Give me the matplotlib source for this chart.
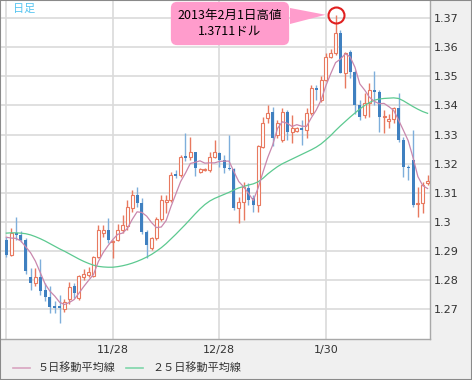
import numpy as np
import matplotlib
matplotlib.use("Agg")
import matplotlib.pyplot as plt
from matplotlib.lines import Line2D
from matplotlib.patches import Rectangle, Polygon

plt.rcParams['font.family'] = ['DejaVu Sans', 'Noto Sans CJK JP']

# daily candles, oldest first
opens = [1.2940, 1.2888, 1.2961, 1.2955, 1.2940, 1.2812, 1.2790, 1.2812, 1.2767, 1.2744,
         1.2712, 1.2712, 1.2700, 1.2737, 1.2779, 1.2738, 1.2812, 1.2818, 1.2815, 1.2881,
         1.2961, 1.2973, 1.2930, 1.2939, 1.2973, 1.2985, 1.3047, 1.3093, 1.3064, 1.2967,
         1.2910, 1.2944, 1.3010, 1.3070, 1.3076, 1.3165, 1.3160, 1.3225, 1.3222, 1.3241,
         1.3172, 1.3178, 1.3178, 1.3224, 1.3238, 1.3213, 1.3186, 1.3182, 1.3047, 1.3070,
         1.3116, 1.3081, 1.3058, 1.3258, 1.3356, 1.3379, 1.3299, 1.3282, 1.3379, 1.3310,
         1.3314, 1.3321, 1.3316, 1.3373, 1.3461, 1.3419, 1.3489, 1.3567, 1.3579, 1.3650,
         1.3510, 1.3584, 1.3516, 1.3402, 1.3367, 1.3407, 1.3453, 1.3447, 1.3361, 1.3348,
         1.3352, 1.3390, 1.3281, 1.3190, 1.3213, 1.3061, 1.3064, 1.3133]
highs = [1.2950, 1.2978, 1.3016, 1.2970, 1.2945, 1.2841, 1.2841, 1.2872, 1.2790, 1.2781,
         1.2730, 1.2750, 1.2735, 1.2796, 1.2790, 1.2820, 1.2840, 1.2845, 1.2885, 1.2990,
         1.2990, 1.3013, 1.2939, 1.2995, 1.3024, 1.3076, 1.3110, 1.3121, 1.3081, 1.2973,
         1.2950, 1.3016, 1.3093, 1.3093, 1.3173, 1.3178, 1.3230, 1.3307, 1.3293, 1.3241,
         1.3186, 1.3186, 1.3241, 1.3281, 1.3241, 1.3230, 1.3299, 1.3184, 1.3087, 1.3138,
         1.3133, 1.3093, 1.3264, 1.3362, 1.3401, 1.3396, 1.3350, 1.3390, 1.3385, 1.3367,
         1.3327, 1.3350, 1.3390, 1.3470, 1.3470, 1.3500, 1.3579, 1.3593, 1.3711, 1.3659,
         1.3585, 1.3590, 1.3522, 1.3419, 1.3442, 1.3476, 1.3519, 1.3453, 1.3384, 1.3372,
         1.3396, 1.3442, 1.3293, 1.3196, 1.3316, 1.3121, 1.3138, 1.3161]
lows = [1.2880, 1.2882, 1.2939, 1.2930, 1.2822, 1.2767, 1.2781, 1.2750, 1.2730, 1.2689,
        1.2689, 1.2655, 1.2692, 1.2718, 1.2740, 1.2732, 1.2800, 1.2810, 1.2810, 1.2876,
        1.2950, 1.2927, 1.2877, 1.2935, 1.2961, 1.2973, 1.3036, 1.3053, 1.2959, 1.2876,
        1.2905, 1.2938, 1.3005, 1.3030, 1.3070, 1.3150, 1.3153, 1.3210, 1.3213, 1.3158,
        1.3168, 1.3175, 1.3172, 1.3219, 1.3190, 1.3167, 1.3178, 1.3041, 1.2996, 1.3007,
        1.3059, 1.3036, 1.3035, 1.3253, 1.3339, 1.3262, 1.3290, 1.3276, 1.3282, 1.3270,
        1.3310, 1.3265, 1.3287, 1.3368, 1.3418, 1.3412, 1.3485, 1.3562, 1.3573, 1.3510,
        1.3459, 1.3493, 1.3370, 1.3350, 1.3356, 1.3362, 1.3402, 1.3310, 1.3304, 1.3322,
        1.3339, 1.3276, 1.3156, 1.3144, 1.3053, 1.3018, 1.3030, 1.3127]
closes = [1.2888, 1.2961, 1.2955, 1.2938, 1.2833, 1.2790, 1.2812, 1.2764, 1.2742, 1.2708,
          1.2704, 1.2706, 1.2725, 1.2778, 1.2755, 1.2815, 1.2823, 1.2829, 1.2879, 1.2973,
          1.2973, 1.2939, 1.2934, 1.2973, 1.2990, 1.3053, 1.3093, 1.3064, 1.2967, 1.2921,
          1.2944, 1.3010, 1.3075, 1.3076, 1.3162, 1.3157, 1.3224, 1.3219, 1.3241, 1.3184,
          1.3182, 1.3182, 1.3224, 1.3241, 1.3213, 1.3184, 1.3182, 1.3047, 1.3070, 1.3121,
          1.3076, 1.3058, 1.3260, 1.3339, 1.3375, 1.3290, 1.3339, 1.3379, 1.3310, 1.3321,
          1.3321, 1.3316, 1.3373, 1.3459, 1.3453, 1.3489, 1.3567, 1.3579, 1.3647, 1.3512,
          1.3579, 1.3516, 1.3402, 1.3362, 1.3407, 1.3453, 1.3447, 1.3362, 1.3364, 1.3352,
          1.3390, 1.3281, 1.3190, 1.3184, 1.3059, 1.3064, 1.3127, 1.3142]

ma5 = [1.2948, 1.2945, 1.2944, 1.2935, 1.2915, 1.2895, 1.2866, 1.2827, 1.2788, 1.2763,
       1.2746, 1.2725, 1.2717, 1.2724, 1.2734, 1.2756, 1.2779, 1.2800, 1.2820, 1.2864,
       1.2895, 1.2919, 1.2940, 1.2958, 1.2962, 1.2978, 1.3009, 1.3035, 1.3033, 1.3020,
       1.2998, 1.2981, 1.2983, 1.3005, 1.3053, 1.3096, 1.3139, 1.3168, 1.3201, 1.3205,
       1.3210, 1.3202, 1.3203, 1.3203, 1.3208, 1.3209, 1.3209, 1.3173, 1.3139, 1.3121,
       1.3099, 1.3074, 1.3117, 1.3171, 1.3222, 1.3264, 1.3321, 1.3344, 1.3339, 1.3328,
       1.3334, 1.3329, 1.3328, 1.3358, 1.3384, 1.3418, 1.3468, 1.3509, 1.3547, 1.3559,
       1.3577, 1.3567, 1.3531, 1.3474, 1.3453, 1.3428, 1.3414, 1.3406, 1.3407, 1.3396,
       1.3383, 1.3350, 1.3315, 1.3279, 1.3221, 1.3156, 1.3125, 1.3115]
ma25 = [1.2962, 1.2963, 1.2963, 1.2962, 1.2960, 1.2956, 1.2950, 1.2943, 1.2935, 1.2926,
        1.2917, 1.2908, 1.2900, 1.2891, 1.2882, 1.2873, 1.2865, 1.2858, 1.2852, 1.2848,
        1.2846, 1.2845, 1.2845, 1.2847, 1.2850, 1.2854, 1.2859, 1.2865, 1.2872, 1.2880,
        1.2889, 1.2900, 1.2912, 1.2926, 1.2942, 1.2958, 1.2975, 1.2992, 1.3010, 1.3028,
        1.3045, 1.3060, 1.3072, 1.3081, 1.3088, 1.3095, 1.3102, 1.3110, 1.3117, 1.3122,
        1.3127, 1.3131, 1.3138, 1.3150, 1.3165, 1.3178, 1.3190, 1.3200, 1.3208, 1.3216,
        1.3224, 1.3232, 1.3240, 1.3248, 1.3257, 1.3268, 1.3282, 1.3297, 1.3314, 1.3330,
        1.3345, 1.3360, 1.3374, 1.3388, 1.3400, 1.3410, 1.3418, 1.3422, 1.3424, 1.3425,
        1.3426, 1.3424, 1.3416, 1.3406, 1.3396, 1.3387, 1.3379, 1.3373]

date_pos = [0, 22, 44, 66]
date_labels = ['', '11/28', '12/28', '1/30']
price_ticks = [1.27, 1.28, 1.29, 1.30, 1.31, 1.32, 1.33, 1.34, 1.35, 1.36, 1.37]
peak_idx = 68
peak_price = 1.3711
peak_text = "2013年2月1日高値\n1.3711ドル"

UP = '#e8795f'
DOWN = '#3f80c0'
DOWN_WICK = '#7eaedb'
MA5_COL = '#c987ad'
MA25_COL = '#5cc990'
PINK = '#ff9ccc'

o = np.array(opens); h = np.array(highs); l = np.array(lows); c = np.array(closes)
x = np.arange(len(o))
up = c >= o

fig = plt.figure(figsize=(4.72, 3.80), dpi=100, facecolor='#f0f0f0')
ax = fig.add_axes([1 / 472, 41 / 380, 429 / 472, 338 / 380])
ax.set_facecolor('white')

ax.vlines(x[up], l[up], h[up], color=UP, lw=1.0, zorder=2)
ax.vlines(x[~up], l[~up], h[~up], color=DOWN_WICK, lw=1.0, zorder=2)
ax.bar(x[up], np.maximum(c[up] - o[up], 0.00005), bottom=o[up], width=0.62,
       facecolor='white', edgecolor=UP, lw=0.8, zorder=3)
ax.bar(x[~up], np.maximum(o[~up] - c[~up], 0.00005), bottom=c[~up], width=0.62,
       color=DOWN, lw=0, zorder=3)

ax.plot(x, ma25, color=MA25_COL, lw=0.9, zorder=4)
ax.plot(x, ma5, color=MA5_COL, lw=0.9, zorder=4)

ax.set_xlim(-1.1, 87.5)
ax.set_ylim(1.25988, 1.37583)

# peak marker + callout box with a tail pointing at it
ax.plot(peak_idx, peak_price, 'o', ms=11.5, mfc='none', mec='#e02020', mew=1.5, zorder=6)
fig.text(230 / 472, 1 - 23.5 / 380, peak_text, ha='center', va='center', fontsize=9,
         linespacing=1.35, color='black', family=['Noto Sans CJK JP', 'DejaVu Sans'],
         bbox=dict(boxstyle='round,pad=0.55,rounding_size=0.5', fc=PINK, ec='none'),
         zorder=7)
px, py = ax.transData.transform((peak_idx, peak_price))
tail = [(290, 380 - 8), (290, 380 - 24), (px - 10, py)]
tail = fig.transFigure.inverted().transform(tail)
fig.add_artist(Polygon(tail, closed=True, transform=fig.transFigure, fc=PINK, ec='none', zorder=7))

ax.set_yticks(price_ticks)
ax.set_yticklabels(['%g' % v for v in price_ticks])
ax.yaxis.tick_right()
ax.set_xticks(date_pos)
ax.set_xticklabels(date_labels)
ax.tick_params(axis='both', length=0, labelsize=8, colors='#333333')
ax.tick_params(axis='y', pad=3)
ax.tick_params(axis='x', pad=4)
ax.grid(True, color='#dadada', lw=1.2, zorder=0)
ax.set_axisbelow(True)

for s in ['left', 'top']:
    ax.spines[s].set_visible(False)
for s in ['right', 'bottom']:
    ax.spines[s].set_color('#a8a8a8')
    ax.spines[s].set_linewidth(1.0)

ax.text(12 / 429, 1 - 8 / 338, '日足', transform=ax.transAxes, fontsize=8,
        color='#55c4f0', va='center', ha='left', family=['Noto Sans CJK JP'])

# legend at the bottom
fig.add_artist(Line2D([13 / 472, 30 / 472], [1 - 368 / 380] * 2, color='#d8a5c0', lw=1.2))
fig.text(38 / 472, 1 - 368 / 380, '５日移動平均線', fontsize=8, color='#333333',
         va='center', family=['Noto Sans CJK JP'])
fig.add_artist(Line2D([126 / 472, 143 / 472], [1 - 368 / 380] * 2, color='#7fd6aa', lw=1.2))
fig.text(152 / 472, 1 - 368 / 380, '２５日移動平均線', fontsize=8, color='#333333',
         va='center', family=['Noto Sans CJK JP'])

# outer frame
fig.add_artist(Rectangle((0, 0), 1, 1, transform=fig.transFigure, fill=False,
                         ec='#8a8a8a', lw=1.5))

fig.savefig('out.png', dpi=100, facecolor=fig.get_facecolor())
